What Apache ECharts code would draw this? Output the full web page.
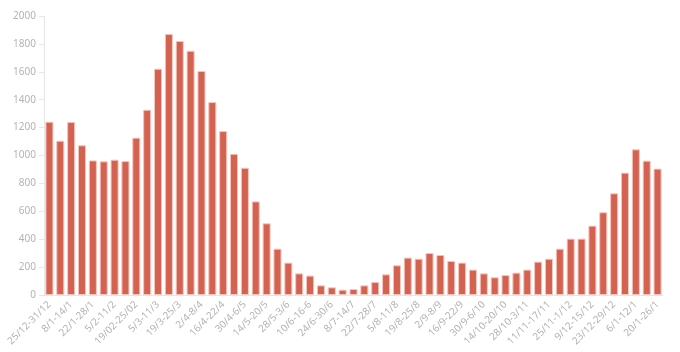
<!DOCTYPE html>
<html>
<head>
<meta charset="utf-8">
<script src="https://cdn.jsdelivr.net/npm/echarts@6/dist/echarts.min.js"></script>
<style>
  html, body { margin: 0; padding: 0; background: #fff; }
  #chart { width: 680px; height: 352px; }
</style>
</head>
<body>
<div id="chart"></div>
<script>
  // weekly periods
  var weeks = [
    '25/12-31/12', '1/1-7/1', '8/1-14/1', '15/1-21/1', '22/1-28/1', '29/1-4/2',
    '5/2-11/2', '12/2-18/2', '19/02-25/02', '26/2-4/3', '5/3-11/3', '12/3-18/3',
    '19/3-25/3', '26/3-1/4', '2/4-8/4', '9/4-15/4', '16/4-22/4', '23/4-29/4',
    '30/4-6/5', '7/5-13/5', '14/5-20/5', '21/5-27/5', '28/5-3/6', '4/6-9/6',
    '10/6-16-6', '17/6-23/6', '24/6-30/6', '1/7-7/7', '8/7-14/7', '15/7-21/7',
    '22/7-28/7', '29/7-4/8', '5/8-11/8', '12/8-18/8', '19/8-25/8', '26/8-1/9',
    '2/9-8/9', '9/9-15/9', '16/9-22/9', '23/9-29/9', '30/9-6/10', '7/10-13/10',
    '14/10-20/10', '21/10-27/10', '28/10-3/11', '4/11-10/11', '11/11-17/11', '18/11-24/11',
    '25/11-1/12', '2/12-8/12', '9/12-15/12', '16/12-22/12', '23/12-29/12', '30/12-5/1',
    '6/1-12/1', '13/1-19/1', '20/1-26/1'
  ];
  var counts = [
    1242, 1106, 1240, 1073, 965, 958, 970, 960, 1128, 1328, 1622, 1871,
    1821, 1751, 1606, 1383, 1175, 1012, 912, 671, 514, 332, 232, 155,
    139, 69, 55, 38, 43, 69, 93, 148, 213, 268, 260, 301,
    287, 244, 232, 182, 155, 127, 143, 160, 182, 239, 260, 332,
    404, 404, 497, 593, 729, 877, 1044, 963, 906
  ];
  var yMin = 0, yMax = 2000, yStep = 200;

  var myChart = echarts.init(document.getElementById('chart'));
  myChart.setOption({
    animation: false,
    grid: { left: 44, right: 17, top: 16, bottom: 57 },
    xAxis: {
      type: 'category',
      data: weeks,
      axisLine: { lineStyle: { color: '#e6e6e6' } },
      axisTick: { alignWithLabel: true, interval: 0, lineStyle: { color: '#e6e6e6' } },
      axisLabel: {
        interval: 1,
        rotate: 45,
        color: '#b3b3b3',
        fontSize: 10,
        fontFamily: 'Noto Sans'
      }
    },
    yAxis: {
      type: 'value',
      min: yMin,
      max: yMax,
      interval: yStep,
      splitLine: { show: false },
      axisLine: { show: true, lineStyle: { color: '#e6e6e6' } },
      axisTick: { show: true, length: 5, lineStyle: { color: '#e6e6e6' } },
      axisLabel: {
        color: '#b3b3b3',
        fontSize: 10,
        fontFamily: 'Noto Sans',
        formatter: function (v) { return String(v); }
      }
    },
    series: [{
      type: 'bar',
      data: counts,
      barCategoryGap: '26%',
      itemStyle: {
        color: '#d46251',
        borderColor: '#f3c6be',
        borderWidth: 1
      }
    }]
  });
</script>
</body>
</html>
